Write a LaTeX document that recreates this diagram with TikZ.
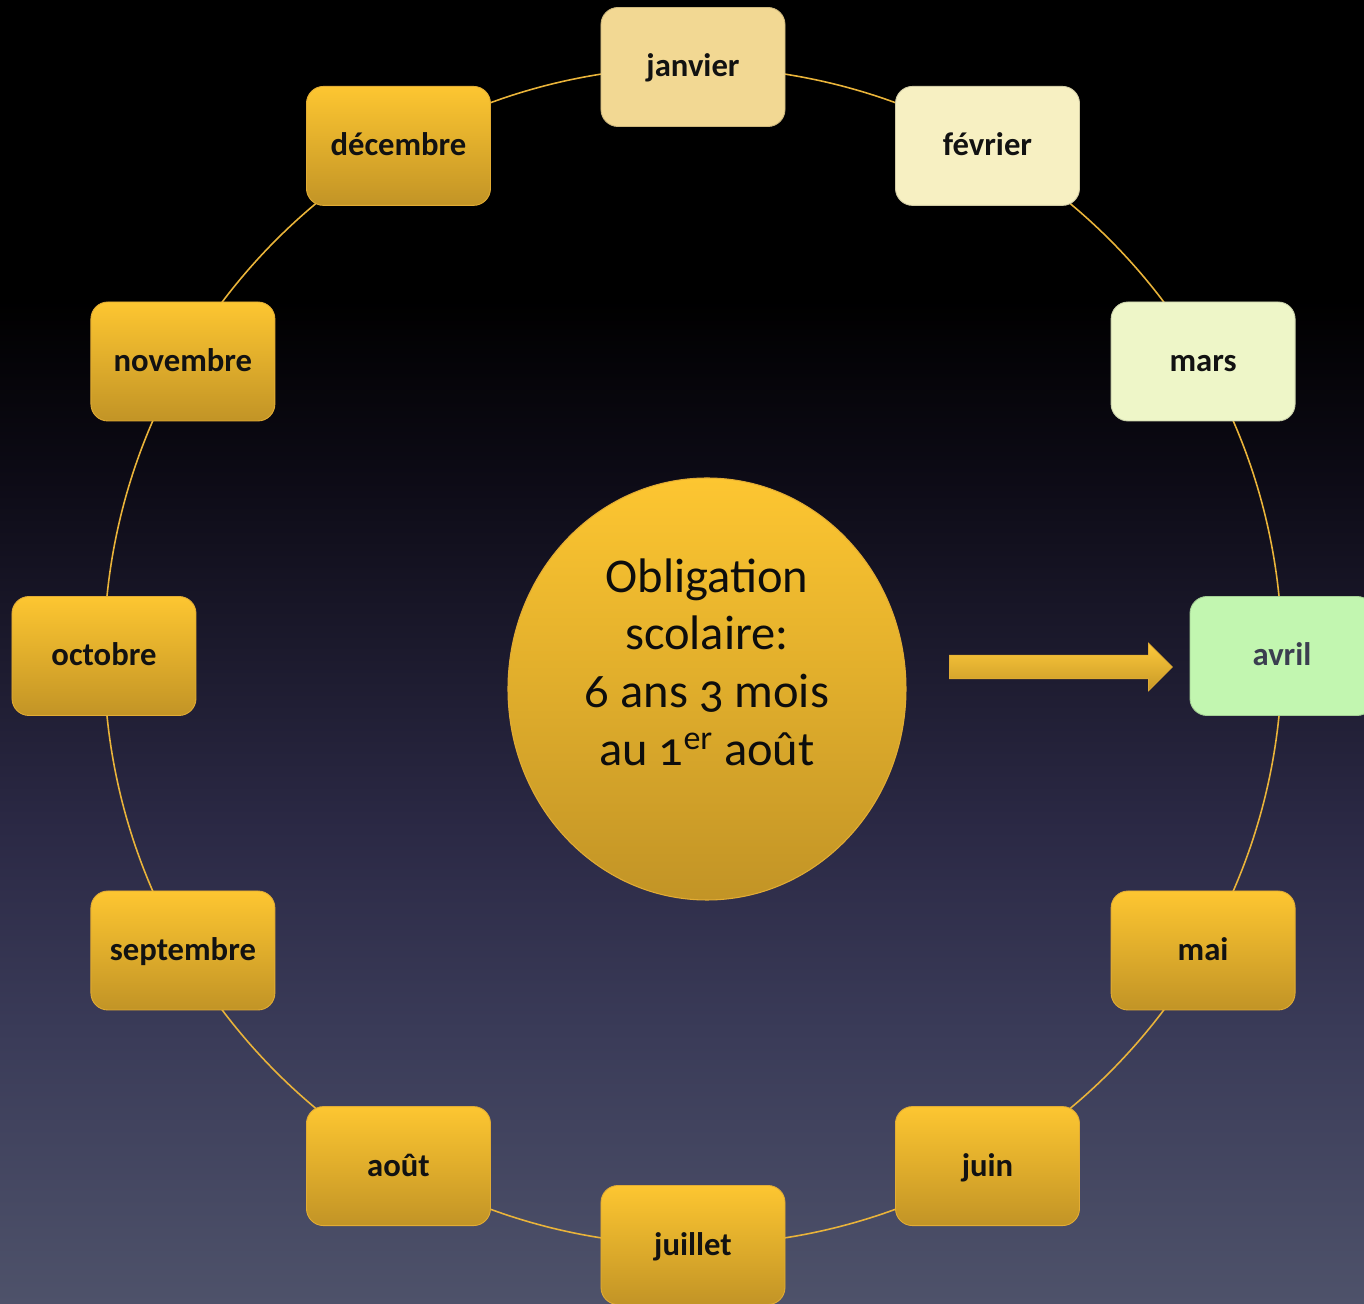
\documentclass[tikz,border=0pt]{standalone}
\usepackage{fontspec}
\setmainfont{Carlito}[Numbers=OldStyle]
\usepackage{tikz}
\usetikzlibrary{calc}
\usetikzlibrary{shapes.geometric}
\usetikzlibrary{shapes.arrows}
\definecolor{goldtop}{RGB}{253,198,49}
\definecolor{goldbot}{RGB}{194,148,38}
\definecolor{goldedge}{RGB}{226,172,52}
\definecolor{ringline}{RGB}{234,180,58}
\definecolor{janvcol}{RGB}{242,216,147}
\definecolor{fevrcol}{RGB}{247,240,194}
\definecolor{marscol}{RGB}{238,246,200}
\definecolor{avrcol}{RGB}{194,246,176}
\definecolor{avrtext}{RGB}{59,62,80}
\definecolor{skyA}{RGB}{78,82,106}
\definecolor{skyB}{RGB}{58,59,88}
\definecolor{skyC}{RGB}{43,41,69}
\definecolor{skyD}{RGB}{13,11,22}
\pgfdeclareverticalshading{nightsky}{100bp}{color(0bp)=(skyA); color(25bp)=(skyA); color(35.5bp)=(skyB); color(43.2bp)=(skyC); color(56.6bp)=(skyD); color(63.5bp)=(black); color(100bp)=(black)}

\begin{document}
\begin{tikzpicture}[x=0.2mm,y=0.2mm,
		month/.style={rectangle,rounded corners=3.4mm,minimum width=36.8mm,minimum height=23.8mm,inner sep=0pt,text height=4.4mm,text depth=0.4mm,line width=0.5pt,font=\fontsize{18.6}{22}\selectfont\bfseries,text=black!93},
		gold/.style={month,top color=goldtop,bottom color=goldbot,draw=goldedge},
		pale/.style={month,fill=#1,draw=#1!85!black},
		core/.style={ellipse,minimum width=79.6mm,minimum height=84.4mm,inner sep=0pt,top color=goldtop,bottom color=goldbot,draw=goldedge,line width=0.6pt},
		coretext/.style={align=center,inner sep=0pt,font=\fontsize{27.6}{32.8}\selectfont,text=black!95},
		bigarrow/.style={single arrow,single arrow head extend=2.4mm,minimum height=44.6mm,minimum width=0pt,text height=4.6mm,text depth=0pt,inner sep=0pt,top color=goldtop!95!white,bottom color=goldbot!90!goldtop,draw=goldedge,line width=0.4pt},
		ring/.style={draw=ringline,line width=0.9pt}]
		% background
		\useasboundingbox (-693,-648) rectangle (671,656);
		\fill[shading=nightsky] (-693,-648) rectangle (671,656);
		
		\coordinate (hub) at (0,0);
		\draw[ring] (hub) circle [radius=589];
		
		\node[core]      (core)    at (14,-33)   {};
		\node[coretext]  (motto)   at ([yshift=5.4mm]core.center) {Obligation\\scolaire:\\6 ans 3 mois\\au 1\textsuperscript{er} août};
		\node[bigarrow]  (push)    at (362,-11) {};
		
		% months
		\node[pale=janvcol]  (jan)  at (90:589)   {janvier};
		\node[pale=fevrcol]  (feb)  at (60:589)   {février};
		\node[pale=marscol]  (mar)  at (30:589)   {mars};
		\node[pale=avrcol,text=avrtext] (apr) at (0:589) {avril};
		\node[gold]          (may)  at (-30:589)  {mai};
		\node[gold]          (jun)  at (-60:589)  {juin};
		\node[gold]          (jul)  at (-90:589)  {juillet};
		\node[gold]          (aug)  at (-120:589) {août};
		\node[gold]          (sep)  at (-150:589) {septembre};
		\node[gold]          (oct)  at (180:589)  {octobre};
		\node[gold]          (nov)  at (150:589)  {novembre};
		\node[gold]          (dec)  at (120:589)  {décembre};
\end{tikzpicture}
\end{document}
